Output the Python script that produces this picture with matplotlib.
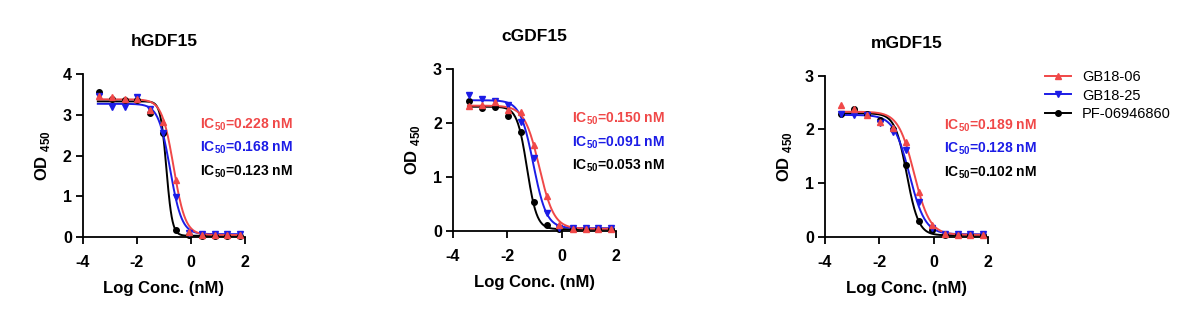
'''
三种GDF15 (h/c/m) 的剂量-效应曲线, OD450 vs Log Conc.
'''
import numpy as np
import matplotlib
matplotlib.use("Agg")
import matplotlib.pyplot as plt

plt.rcParams['font.family'] = ['Liberation Sans', 'DejaVu Sans']
plt.rcParams['mathtext.fontset'] = 'custom'
plt.rcParams['mathtext.bf'] = 'Liberation Sans:bold'
plt.rcParams['mathtext.rm'] = 'Liberation Sans:bold'
plt.rcParams['axes.unicode_minus'] = False

# ---------------- data ----------------
log_conc = [-3.42, -2.94, -2.46, -1.99, -1.51, -1.03, -0.55, -0.08, 0.40, 0.88, 1.35, 1.83]

names   = ['GB18-06', 'GB18-25', 'PF-06946860']
titles  = ['hGDF15', 'cGDF15', 'mGDF15']
y_top   = [4, 3, 3]

# OD450 values, panel -> series
od_h = [[3.45, 3.44, 3.39, 3.39, 3.12, 2.83, 1.40, 0.13, 0.06, 0.05, 0.05, 0.05],
        [3.47, 3.18, 3.20, 3.43, 3.13, 2.55, 0.99, 0.10, 0.08, 0.07, 0.07, 0.07],
        [3.55, 3.38, 3.36, 3.37, 3.05, 2.55, 0.17, 0.04, 0.03, 0.03, 0.03, 0.03]]
od_c = [[2.31, 2.33, 2.38, 2.24, 2.20, 1.59, 0.65, 0.10, 0.04, 0.04, 0.04, 0.04],
        [2.52, 2.44, 2.40, 2.33, 2.02, 1.35, 0.33, 0.06, 0.05, 0.05, 0.05, 0.05],
        [2.40, 2.27, 2.30, 2.12, 1.84, 0.54, 0.10, 0.03, 0.03, 0.03, 0.03, 0.03]]
od_m = [[2.46, 2.38, 2.27, 2.14, 2.02, 1.76, 0.83, 0.22, 0.06, 0.04, 0.04, 0.04],
        [2.29, 2.27, 2.27, 2.12, 1.96, 1.62, 0.65, 0.16, 0.06, 0.06, 0.06, 0.06],
        [2.29, 2.38, 2.28, 2.18, 2.00, 1.34, 0.30, 0.13, 0.04, 0.03, 0.03, 0.03]]

# 4PL fit parameters (top, bottom, hill) and IC50 (nM) from labels
ic50_h = [0.228, 0.168, 0.123]
ic50_c = [0.150, 0.091, 0.053]
ic50_m = [0.189, 0.128, 0.102]
top_h, bot_h, hill_h = [3.38, 3.27, 3.33], [0.05, 0.07, 0.03], [2.0, 2.0, 4.0]
top_c, bot_c, hill_c = [2.32, 2.42, 2.30], [0.04, 0.05, 0.03], [1.6, 1.8, 2.4]
top_m, bot_m, hill_m = [2.33, 2.27, 2.30], [0.04, 0.05, 0.03], [1.5, 1.5, 2.0]

colors  = ['#f04848', '#1c1ce6', 'black']
markers = ['^', 'v', 'o']


def four_pl(x, top, bottom, log_ic50, hill):
    return bottom + (top - bottom) / (1 + 10 ** ((x - log_ic50) * hill))


def paint_panel(ax, title, ytop, od, ic50, top, bot, hill, text_xy):
    xs = np.linspace(min(log_conc) - 0.03, max(log_conc) + 0.03, 300)
    for i in range(3):
        ax.plot(xs, four_pl(xs, top[i], bot[i], np.log10(ic50[i]), hill[i]),
                color=colors[i], lw=1.4, zorder=3 - i * 0.1, clip_on=False)
        ax.plot(log_conc, od[i], ls='none', marker=markers[i], ms=4,
                color=colors[i], zorder=4 - i * 0.1, clip_on=False)

    ax.set_xlim(-4, 2)
    ax.set_ylim(0, ytop)
    ax.set_xticks([-4, -2, 0, 2])
    ax.set_yticks(np.arange(0, ytop + 1, 1))
    for s in ['top', 'right']:
        ax.spines[s].set_visible(False)
    for s in ['left', 'bottom']:
        ax.spines[s].set_linewidth(1.3)
    ax.tick_params(direction='out', length=5, width=1.3, labelsize=11.5)
    ax.tick_params(axis='x', pad=8)
    ax.tick_params(axis='y', pad=3)
    for lab in ax.get_xticklabels() + ax.get_yticklabels():
        lab.set_fontweight('bold')

    ax.set_title(title, fontsize=12.5, fontweight='bold', pad=20)
    ax.set_xlabel('Log Conc. (nM)', fontsize=12, fontweight='bold', labelpad=8)
    ax.set_ylabel(r'OD $_{\mathbf{450}}$', fontsize=12, fontweight='bold', labelpad=8)

    tx, ty = text_xy
    for i in range(3):
        ax.text(tx, ty - i * 0.145, r'IC$_{\mathbf{50}}$=%.3f nM' % ic50[i],
                transform=ax.transAxes, color=colors[i], fontsize=10,
                fontweight='bold', va='center')


def main():
    fig = plt.figure(figsize=(11.8, 3.22), dpi=100)
    ax1 = fig.add_axes([0.0703, 0.264, 0.1373, 0.506])
    ax2 = fig.add_axes([0.3839, 0.283, 0.1381, 0.503])
    ax3 = fig.add_axes([0.6992, 0.264, 0.1381, 0.501])

    paint_panel(ax1, titles[0], y_top[0], od_h, ic50_h, top_h, bot_h, hill_h, (0.72, 0.69))
    paint_panel(ax2, titles[1], y_top[1], od_c, ic50_c, top_c, bot_c, hill_c, (0.73, 0.69))
    paint_panel(ax3, titles[2], y_top[2], od_m, ic50_m, top_m, bot_m, hill_m, (0.73, 0.69))

    # legend entries with line + marker
    handles = [plt.Line2D([], [], color=colors[i], marker=markers[i], ms=4, lw=1.4)
               for i in range(3)]
    fig.legend(handles, names, loc='upper left', bbox_to_anchor=(0.8856, 0.782),
               frameon=False, fontsize=10.5, handlelength=1.75, handletextpad=0.8,
               labelspacing=0.3, borderpad=0, borderaxespad=0)

    fig.savefig('out.png', dpi=100, facecolor='white')


if __name__ == "__main__":
    main()
